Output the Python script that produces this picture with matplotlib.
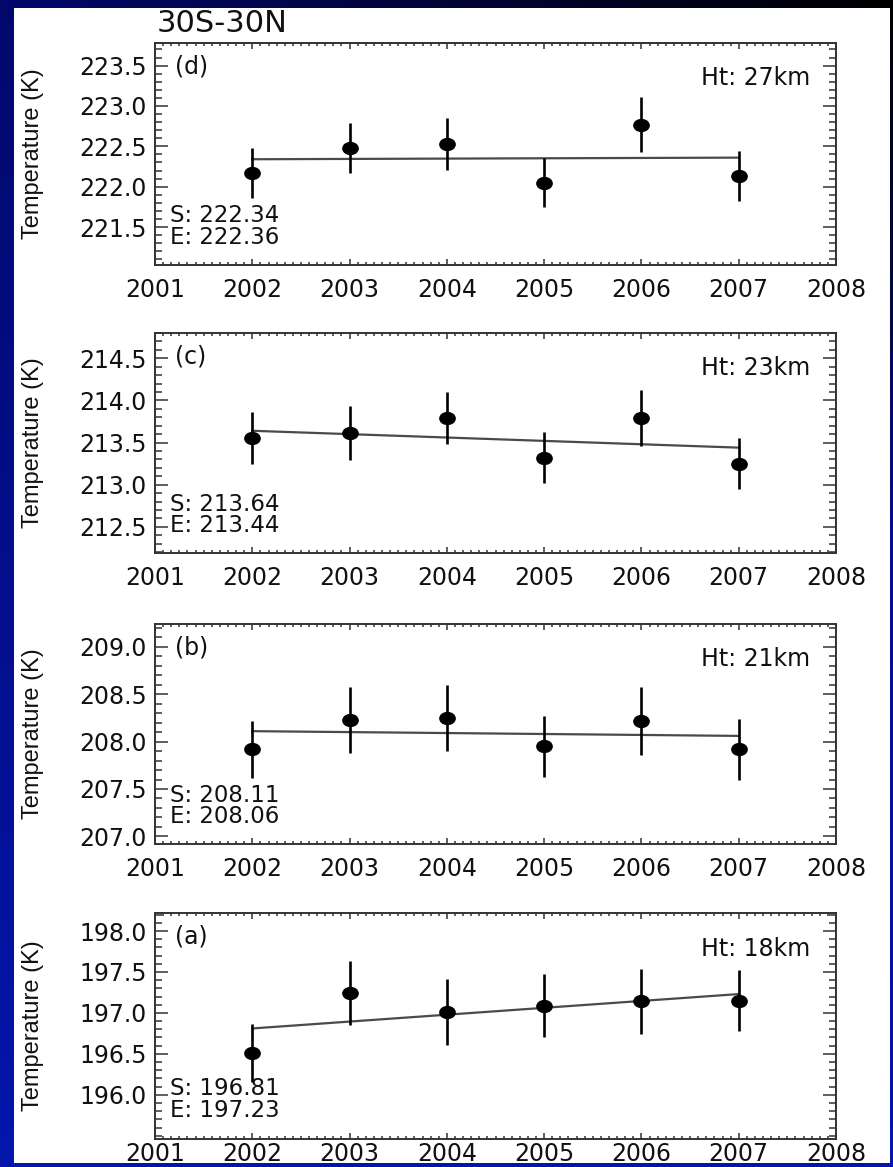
import numpy as np
import matplotlib.pyplot as plt
from matplotlib.patches import Rectangle
from matplotlib.path import Path
from matplotlib.ticker import MultipleLocator, FormatStrFormatter

# Annual mean temperatures, 30S-30N, at four heights
years = [2002, 2003, 2004, 2005, 2006, 2007]

temp_18 = [196.51, 197.24, 197.01, 197.09, 197.14, 197.15]
err_18 = [0.35, 0.39, 0.40, 0.38, 0.40, 0.37]
trend_18 = [196.81, 197.23]

temp_21 = [207.92, 208.23, 208.25, 207.95, 208.22, 207.92]
err_21 = [0.30, 0.35, 0.35, 0.32, 0.36, 0.32]
trend_21 = [208.11, 208.06]

temp_23 = [213.55, 213.61, 213.79, 213.32, 213.79, 213.25]
err_23 = [0.31, 0.32, 0.31, 0.30, 0.33, 0.30]
trend_23 = [213.64, 213.44]

temp_27 = [222.17, 222.48, 222.53, 222.05, 222.77, 222.13]
err_27 = [0.31, 0.31, 0.32, 0.30, 0.34, 0.31]
trend_27 = [222.34, 222.36]

panel_tags = ['(d)', '(c)', '(b)', '(a)']
heights = ['27km', '23km', '21km', '18km']
temps = [temp_27, temp_23, temp_21, temp_18]
errs = [err_27, err_23, err_21, err_18]
trends = [trend_27, trend_23, trend_21, trend_18]
ylims = [(221.03, 223.78), (212.19, 214.80), (206.92, 209.24), (195.46, 198.22)]
ytick_lo = [221.5, 212.5, 207.0, 196.0]

W, H = 893, 1167
fig = plt.figure(figsize=(W / 100, H / 100), dpi=100)

# slide background: navy to blue, darkening towards the top right
yy, xx = np.mgrid[0:H, 0:W]
yf = yy / H
xf = xx / W
top = np.array([2, 8, 108]) / 255
bottom = np.array([4, 22, 172]) / 255
base = top[None, None, :] * (1 - yf[..., None]) + bottom[None, None, :] * yf[..., None]
dark = 1 - xf * np.clip(1 - yf * 2.2, 0, 1)
bg = base * dark[..., None]
fig.figimage(bg, xo=0, yo=0, origin='upper', zorder=0)

fig.patches.append(Rectangle((14 / W, 1 - 1163 / H), (890 - 14) / W, (1163 - 8) / H,
                             transform=fig.transFigure, facecolor='white',
                             edgecolor='none', zorder=0.5))

# slightly flattened dot for the data points
circ = Path.unit_circle()
dot = Path(circ.vertices * np.array([1.0, 0.78]), circ.codes)

left = 155 / W
width = (836 - 155) / W
tops = [43, 333, 624, 913]
bots = [265, 553, 844, 1139]
xpads = [9, 9, 9, 2]
ink = '#111111'

for i in range(4):
    ax = fig.add_axes([left, 1 - bots[i] / H, width, (bots[i] - tops[i]) / H])
    ax.set_zorder(2)

    ax.plot([years[0], years[-1]], trends[i], color='#4a4a4a', lw=1.6, zorder=2)
    ax.errorbar(years, temps[i], yerr=errs[i], fmt='none', ecolor='black',
                elinewidth=1.9, capsize=0, zorder=3)
    ax.plot(years, temps[i], linestyle='none', marker=dot, ms=11,
            color='black', zorder=4)

    ax.set_xlim(2001, 2008)
    ax.set_ylim(*ylims[i])
    ax.xaxis.set_major_locator(MultipleLocator(1))
    ax.xaxis.set_minor_locator(MultipleLocator(1 / 12))
    ax.set_yticks(np.arange(ytick_lo[i], ytick_lo[i] + 2.01, 0.5))
    ax.yaxis.set_minor_locator(MultipleLocator(0.1))
    ax.yaxis.set_major_formatter(FormatStrFormatter('%.1f'))
    ax.xaxis.set_major_formatter(FormatStrFormatter('%d'))

    ax.tick_params(axis='both', which='both', direction='in', top=True, right=True,
                   color='#333333', width=1.1, labelsize=17, labelcolor=ink)
    ax.tick_params(axis='y', which='major', length=9.5, pad=6)
    ax.tick_params(axis='y', which='minor', length=5)
    ax.tick_params(axis='x', which='major', length=4, pad=xpads[i])
    ax.tick_params(axis='x', which='minor', length=2)

    for sp in ax.spines.values():
        sp.set_color('#333333')
        sp.set_linewidth(1.4)

    ax.set_ylabel('Temperature (K)', family='Liberation Sans', fontsize=17,
                  color=ink)
    ax.yaxis.set_label_coords(-0.163, 0.5)

    ax.text(0.03, 0.895, panel_tags[i], transform=ax.transAxes, fontsize=17,
            va='center', ha='left', color=ink)
    ax.text(0.962, 0.842, 'Ht: ' + heights[i], transform=ax.transAxes, fontsize=17,
            va='center', ha='right', color=ink)
    ax.text(0.022, 0.222, 'S: %.2f' % trends[i][0], transform=ax.transAxes,
            fontsize=16.5, va='center', ha='left', color=ink)
    ax.text(0.022, 0.125, 'E: %.2f' % trends[i][1], transform=ax.transAxes,
            fontsize=16.5, va='center', ha='left', color=ink)

fig.text(157 / W, 1 - 24 / H, '30S-30N', fontsize=22, va='center', ha='left',
         color=ink, zorder=3)

fig.savefig('out.png', dpi=100)
